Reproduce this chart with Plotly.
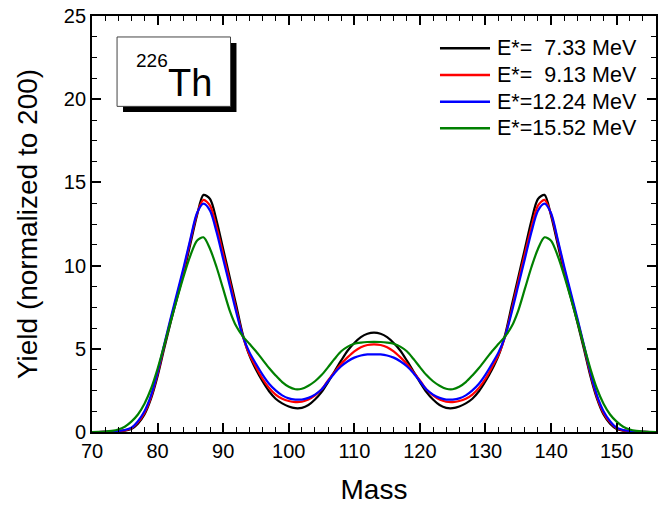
import plotly.graph_objects as go

# mass numbers 70..156
mass = list(range(70, 157))

# yields (normalized to 200)
yield_733 = [0, 0, 0.01, 0.02, 0.04, 0.08, 0.18, 0.5, 1.05, 2.0,
             3.35, 5.0, 6.6, 8.1, 9.6, 11.3, 13.0, 14.25, 14.0, 12.7,
             11.0, 9.3, 7.6, 5.85, 4.6, 3.75, 3.05, 2.45, 2.0, 1.72,
             1.53, 1.43, 1.45, 1.62, 1.95, 2.4, 3.0, 3.65, 4.3, 4.9,
             5.35, 5.7, 5.9, 5.97, 5.9, 5.7, 5.35, 4.9, 4.3, 3.65,
             3.0, 2.4, 1.95, 1.62, 1.45, 1.43, 1.53, 1.72, 2.0, 2.45,
             3.05, 3.75, 4.6, 5.85, 7.6, 9.3, 11.0, 12.7, 14.0, 14.25,
             13.0, 11.3, 9.6, 8.1, 6.6, 5.0, 3.35, 2.0, 1.05, 0.5,
             0.18, 0.08, 0.04, 0.02, 0.01, 0, 0]
yield_913 = [0, 0, 0.01, 0.02, 0.05, 0.1, 0.22, 0.58, 1.15, 2.1,
             3.5, 5.15, 6.75, 8.25, 9.8, 11.5, 13.1, 13.95, 13.6, 12.3,
             10.7, 9.05, 7.35, 5.75, 4.65, 3.9, 3.2, 2.65, 2.25, 2.0,
             1.86, 1.8, 1.82, 1.95, 2.2, 2.55, 3.1, 3.6, 4.1, 4.5,
             4.85, 5.1, 5.23, 5.27, 5.23, 5.1, 4.85, 4.5, 4.1, 3.6,
             3.1, 2.55, 2.2, 1.95, 1.82, 1.8, 1.86, 2.0, 2.25, 2.65,
             3.2, 3.9, 4.65, 5.75, 7.35, 9.05, 10.7, 12.3, 13.6, 13.95,
             13.1, 11.5, 9.8, 8.25, 6.75, 5.15, 3.5, 2.1, 1.15, 0.58,
             0.22, 0.1, 0.05, 0.02, 0.01, 0, 0]
yield_1224 = [0, 0, 0.01, 0.03, 0.06, 0.12, 0.26, 0.65, 1.25, 2.2,
              3.6, 5.25, 6.85, 8.4, 9.95, 11.6, 13.15, 13.72, 13.3, 12.0,
              10.4, 8.8, 7.2, 5.75, 4.8, 4.1, 3.45, 2.9, 2.5, 2.2,
              2.02, 1.95, 1.95, 2.05, 2.25, 2.55, 3.05, 3.55, 3.95, 4.25,
              4.47, 4.6, 4.66, 4.67, 4.66, 4.6, 4.47, 4.25, 3.95, 3.55,
              3.05, 2.55, 2.25, 2.05, 1.95, 1.95, 2.02, 2.2, 2.5, 2.9,
              3.45, 4.1, 4.8, 5.75, 7.2, 8.8, 10.4, 12.0, 13.3, 13.72,
              13.15, 11.6, 9.95, 8.4, 6.85, 5.25, 3.6, 2.2, 1.25, 0.65,
              0.26, 0.12, 0.06, 0.03, 0.01, 0, 0]
yield_1552 = [0, 0.01, 0.03, 0.07, 0.15, 0.32, 0.62, 1.05, 1.7, 2.6,
              3.8, 5.2, 6.65, 8.05, 9.4, 10.6, 11.5, 11.7, 11.0, 9.9,
              8.6, 7.3, 6.35, 5.75, 5.3, 4.85, 4.35, 3.85, 3.4, 3.0,
              2.72, 2.57, 2.6, 2.78, 3.05, 3.42, 3.9, 4.4, 4.85, 5.13,
              5.3, 5.37, 5.41, 5.42, 5.41, 5.37, 5.3, 5.13, 4.85, 4.4,
              3.9, 3.42, 3.05, 2.78, 2.6, 2.57, 2.72, 3.0, 3.4, 3.85,
              4.35, 4.85, 5.3, 5.75, 6.35, 7.3, 8.6, 9.9, 11.0, 11.7,
              11.5, 10.6, 9.4, 8.05, 6.65, 5.2, 3.8, 2.6, 1.7, 1.05,
              0.62, 0.32, 0.15, 0.07, 0.03, 0.01, 0]

labels = ["E*=\u00a0\u00a07.33 MeV", "E*=\u00a0\u00a09.13 MeV",
          "E*=12.24 MeV", "E*=15.52 MeV"]
colors = ["black", "#ff0000", "#0000ff", "#008000"]

FONT = "Liberation Sans, Arial, sans-serif"

fig = go.Figure()
series = [yield_733, yield_913, yield_1224, yield_1552]
for ys, name, c in zip(series, labels, colors):
    fig.add_trace(go.Scatter(
        x=mass, y=ys, mode="lines", name=name, showlegend=False,
        line=dict(color=c, width=2.2, shape="spline", smoothing=0.8),
    ))

# legend drawn by hand (Origin style: long line, no frame)
legend_rows = [0.9224, 0.8582, 0.794, 0.730]
for name, c, yy in zip(labels, colors, legend_rows):
    fig.add_shape(type="line", xref="paper", yref="paper", x0=0.617, x1=0.7057,
                  y0=yy, y1=yy, line=dict(color=c, width=2.4))
    fig.add_annotation(x=0.7145, y=yy, xref="paper", yref="paper", text=name,
                       showarrow=False, xanchor="left", yanchor="middle",
                       font=dict(size=21.5, color="black", family=FONT))

# nucleus label box with drop shadow
fig.add_shape(type="rect", xref="x", yref="y", x0=74.73, x1=92.03, y0=19.23, y1=23.38,
              fillcolor="black", line=dict(width=0), layer="above")
fig.add_shape(type="rect", xref="x", yref="y", x0=73.82, x1=91.12, y0=19.57, y1=23.74,
              fillcolor="white", line=dict(color="#444", width=1), layer="above")
fig.add_annotation(x=81.35, y=21.0, xref="x", yref="y", text="Th", showarrow=False,
                   xanchor="left", yanchor="middle", font=dict(size=38, color="black", family=FONT))
fig.add_annotation(x=81.85, y=22.34, xref="x", yref="y", text="226", showarrow=False,
                   xanchor="right", yanchor="middle", font=dict(size=19, color="black", family=FONT))

axis_common = dict(
    showline=True, linecolor="black", linewidth=1.8, mirror="ticks",
    ticks="inside", ticklen=9, tickwidth=1.5, tickcolor="black",
    showgrid=False, zeroline=False, automargin=False,
    ticklabeloverflow="allow",
    tickfont=dict(size=20, color="black", family=FONT),
)

fig.update_xaxes(
    range=[70, 156], dtick=10, tick0=70,
    minor=dict(dtick=2, ticks="inside", ticklen=5, tickwidth=1.2, tickcolor="black"),
    title=dict(text="Mass", font=dict(size=28, color="black", family=FONT), standoff=18),
    **axis_common,
)
fig.update_yaxes(
    range=[0, 25], dtick=5, tick0=0,
    minor=dict(dtick=1.25, ticks="inside", ticklen=5, tickwidth=1.2, tickcolor="black"),
    title=dict(text="Yield (normalized to 200)", font=dict(size=28, color="black", family=FONT), standoff=18),
    **axis_common,
)

fig.update_layout(
    width=670, height=506,
    margin=dict(l=92, r=14, t=16, b=74),
    plot_bgcolor="white", paper_bgcolor="white",
    showlegend=False,
)

# drop the browser's default 8px body margin so the figure sits at the page corner
fig.write_html("out.html", config={"displayModeBar": False},
               post_script="document.body.style.margin='0';")
